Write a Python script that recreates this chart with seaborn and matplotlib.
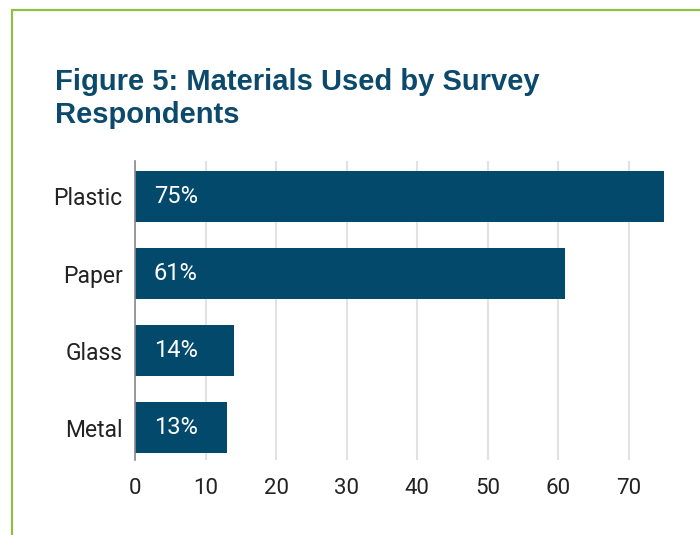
import matplotlib
matplotlib.use("Agg")
import matplotlib.pyplot as plt
import seaborn as sns
import pandas as pd
from matplotlib.lines import Line2D

# Survey data
materials = ["Plastic", "Paper", "Glass", "Metal"]
shares = [75, 61, 14, 13]
share_labels = ["75%", "61%", "14%", "13%"]
x_ticks = [0, 10, 20, 30, 40, 50, 60, 70]

BAR_COLOR = "#02496b"
TITLE_COLOR = "#0b4a6c"
FRAME_GREEN = "#8fbd48"

sns.set_theme(style="white")
plt.rcParams["font.family"] = ["Roboto", "DejaVu Sans"]

df = pd.DataFrame({"material": materials, "share": shares})

fig = plt.figure(figsize=(7.0, 5.35), dpi=100)
ax = fig.add_axes([0.1929, 0.140, 0.7654, 0.559])

sns.barplot(data=df, x="share", y="material", orient="h", color=BAR_COLOR,
            saturation=1, width=0.66, linewidth=0, ax=ax, zorder=3)

ax.set_xlim(0, 76)
ax.set_ylim(3.42, -0.46)
ax.set_xticks(x_ticks)
ax.set_xticklabels([str(t) for t in x_ticks])
ax.set_xlabel("")
ax.set_ylabel("")
ax.grid(axis="x", color="#e2e2e2", linewidth=1.5, zorder=0)
ax.grid(axis="y", visible=False)
for side in ("top", "right", "bottom"):
    ax.spines[side].set_visible(False)
ax.spines["left"].set_color("#8a8a8a")
ax.spines["left"].set_linewidth(1.2)
ax.spines["left"].set_zorder(4)
ax.tick_params(axis="x", length=0, pad=13, labelsize=16, labelcolor="#222222")
ax.tick_params(axis="y", length=0, pad=9, labelsize=16.5, labelcolor="#222222")

# Percent labels inside the bars, near the base
for patch, text in zip(ax.patches, share_labels):
    y = patch.get_y() + patch.get_height() / 2
    ax.text(5.8, y, text, ha="center", va="center", color="white",
            fontsize=17, zorder=5)

# Title
fig.text(55 / 700, 1 - 68 / 535, "Figure 5: Materials Used by Survey\nRespondents",
         ha="left", va="top", fontsize=21, fontweight="bold", color=TITLE_COLOR,
         family=["Liberation Sans", "DejaVu Sans"], linespacing=1.22)

# Green frame lines along the top and left edges
fig.add_artist(Line2D([11.5 / 700, 1.0], [1 - 9.5 / 535, 1 - 9.5 / 535],
                      transform=fig.transFigure, color=FRAME_GREEN, linewidth=1.6))
fig.add_artist(Line2D([11.5 / 700, 11.5 / 700], [0.0, 1 - 9.5 / 535],
                      transform=fig.transFigure, color=FRAME_GREEN, linewidth=1.6))

fig.savefig("out.png", dpi=100)
